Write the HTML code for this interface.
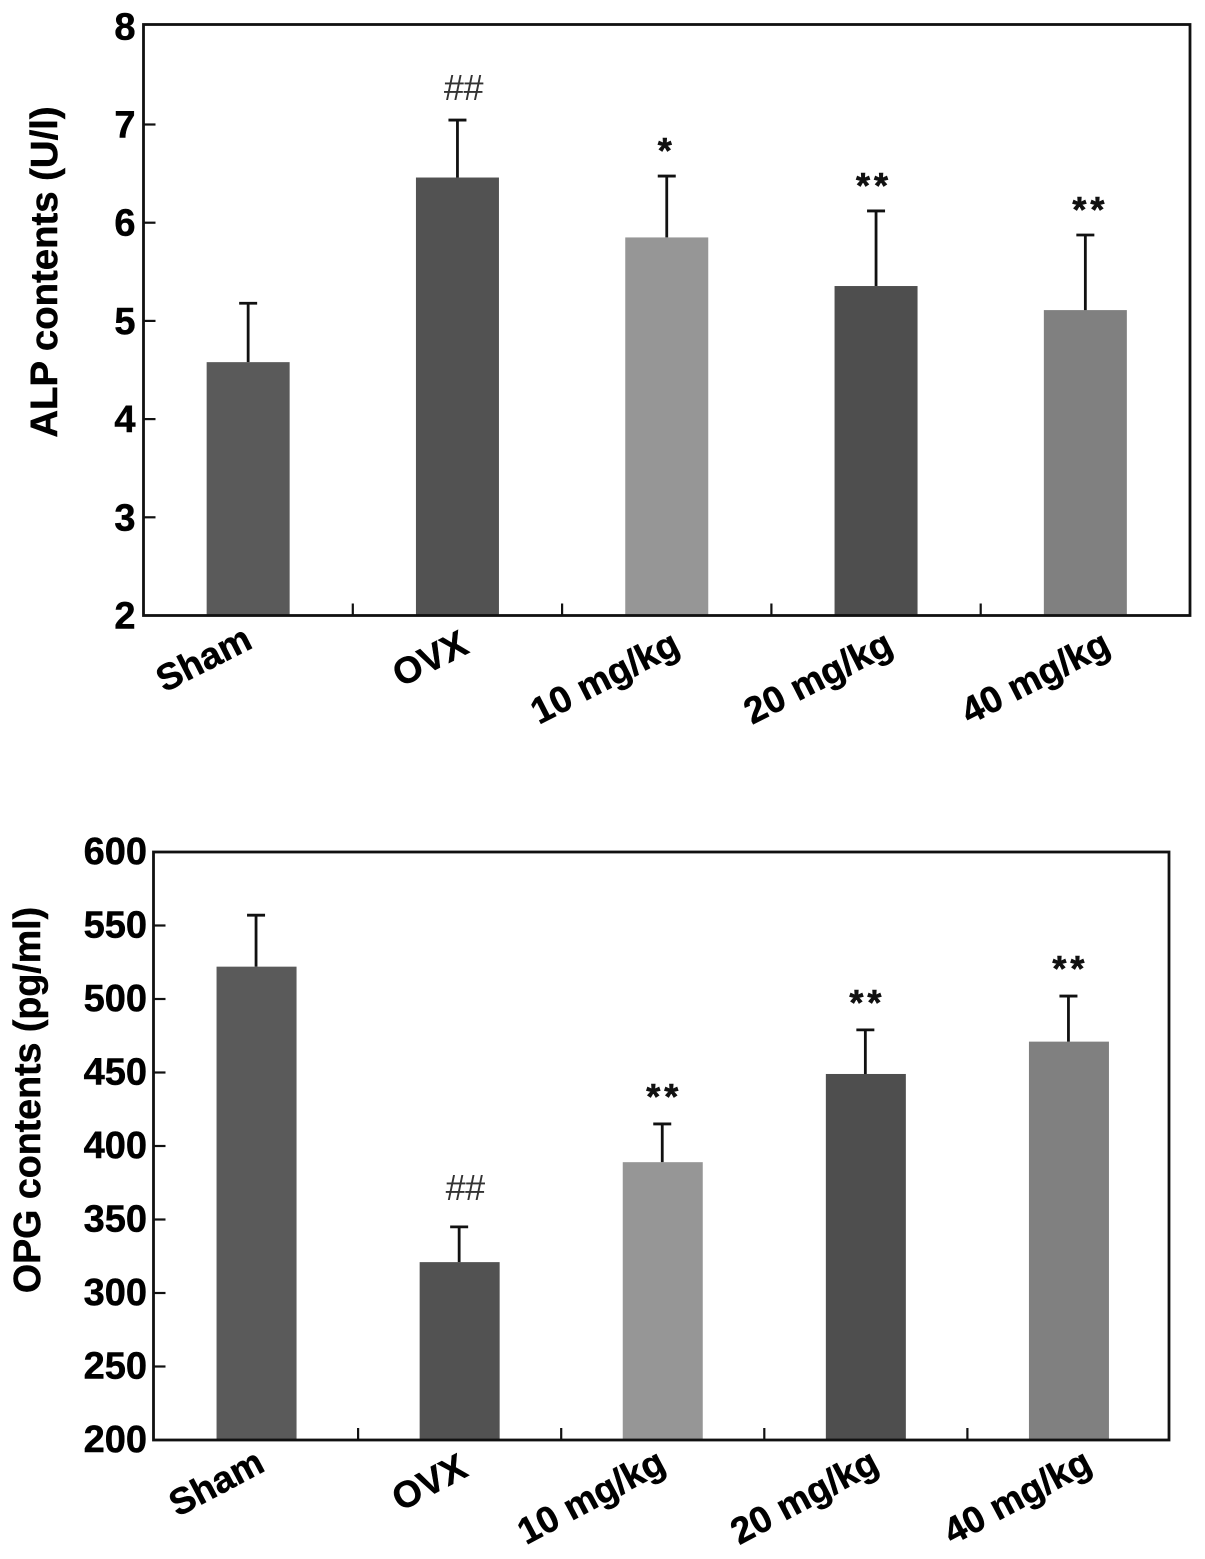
<!DOCTYPE html>
<html>
<head>
<meta charset="utf-8">
<title>ALP and OPG contents</title>
<style>
html,body{margin:0;padding:0;background:#fff;}
svg{display:block;}
text{font-family:"Liberation Sans",Arial,sans-serif;font-weight:bold;fill:#000;}
.heavy{stroke:#000;stroke-width:0.5px;}
</style>
</head>
<body>
<svg id="figure" width="1205" height="1559" viewBox="0 0 1205 1559" xmlns="http://www.w3.org/2000/svg"></svg>
<script>
const categories = ['Sham', 'OVX', '10 mg/kg', '20 mg/kg', '40 mg/kg'];
const alpValues = [4.58, 6.46, 5.85, 5.355, 5.11];
const alpErrorTops = [5.18, 7.045, 6.475, 6.12, 5.875];
const alpMarks = ['', '##', '*', '**', '**'];
const alpTicks = [2, 3, 4, 5, 6, 7, 8];
const opgValues = [522, 321, 389, 449, 471];
const opgErrorTops = [557, 345, 415, 479, 502];
const opgMarks = ['', '##', '**', '**', '**'];
const opgTicks = [200, 250, 300, 350, 400, 450, 500, 550, 600];
const barColors = ['#5a5a5a', '#525252', '#969696', '#4e4e4e', '#808080'];

const NS = 'http://www.w3.org/2000/svg';
const svg = document.getElementById('figure');

function make(tag, attrs, parent, text) {
  const el = document.createElementNS(NS, tag);
  for (const k in attrs) el.setAttribute(k, attrs[k]);
  if (text !== undefined) el.textContent = text;
  parent.appendChild(el);
  return el;
}

function drawChart(cfg) {
  const g = make('g', {}, svg);
  
  
  const y = v => cfg.bottom - (v - cfg.min) / (cfg.max - cfg.min) * (cfg.bottom - cfg.scaleTop);
  const band = (cfg.right - cfg.left) / cfg.categories.length;
  const x = i => cfg.left + cfg.shift + band * (i + 0.5);

  cfg.values.forEach((v, i) => {
    const bar = make('rect', {x: x(i) - cfg.barWidth / 2, y: y(v), width: cfg.barWidth, height: cfg.bottom - y(v), fill: barColors[i]}, g);
    
    

    const ex = x(i) + cfg.errOffset;
    const err = make('path', {d: `M${ex} ${y(v)}V${y(cfg.errors[i])}M${ex - 9} ${y(cfg.errors[i])}H${ex + 9}`, stroke: '#111', 'stroke-width': 2.8, fill: 'none'}, g);
    
    

    if (cfg.marks[i]) {
      const hash = cfg.marks[i] === '##';
      const mark = make('text', {
        x: x(i) + cfg.errOffset + cfg.markDx[i],
        y: y(cfg.errors[i]) + (hash ? cfg.hashDy : cfg.starDy),
        'text-anchor': 'middle',
        'font-size': hash ? 36 : 36,
        'letter-spacing': hash ? -0.5 : 4,
        style: hash ? 'font-weight:normal;fill:#333' : 'fill:#111;stroke:#111;stroke-width:0.6px'
      }, g, cfg.marks[i]);
      
      
    }

    const lx = x(i) + cfg.labelDx[i];
    const ly = cfg.labelY[i];
    const label = make('text', {class: 'heavy', x: lx, y: ly, 'text-anchor': 'end', 'font-size': 37, transform: `rotate(${-cfg.labelAngle} ${lx} ${ly})`}, g, cfg.categories[i]);
    
    
  });

  const frame = make('rect', {x: cfg.left, y: cfg.top, width: cfg.right - cfg.left, height: cfg.bottom - cfg.top, fill: 'none', stroke: '#111', 'stroke-width': 2.8}, g);
  
  

  cfg.ticks.forEach(t => {
    if (t !== cfg.min && t !== cfg.max) {
      const tick = make('line', {x1: cfg.left, x2: cfg.left + 12, y1: y(t), y2: y(t), stroke: '#111', 'stroke-width': 2.2}, g);
      
      
    }
    const lab = make('text', {class: 'heavy', x: cfg.left - cfg.tickGap, y: y(t) + cfg.tickDy, 'text-anchor': 'end', 'font-size': 38}, g, String(t));
    
    
  });

  for (let i = 0; i < cfg.categories.length - 1; i++) {
    const xt = (x(i) + x(i + 1)) / 2;
    const tick = make('line', {x1: xt, x2: xt, y1: cfg.bottom, y2: cfg.bottom - 12, stroke: '#111', 'stroke-width': 2.2}, g);
    
    
  }

  const title = make('text', {class: 'heavy', x: cfg.titleX, y: cfg.titleY, 'text-anchor': 'middle', 'font-size': cfg.titleSize, transform: `rotate(-90 ${cfg.titleX} ${cfg.titleY})`}, g, cfg.title);
  
  
}

drawChart({
  name: 'alp-chart', title: 'ALP contents (U/l)', categories,
  values: alpValues, errors: alpErrorTops, marks: alpMarks, ticks: alpTicks,
  min: 2, max: 8, left: 143.5, right: 1190, top: 24.5, scaleTop: 26.3, bottom: 615.5,
  shift: 0, barWidth: 83, errOffset: 0, tickDy: 13, tickGap: 8,
  labelDx: [6, 13, 15, 19, 27], labelY: [647, 652, 652, 652, 652], labelAngle: 27,
  markDx: [0, 6, 0, -2, 5], hashDy: -20, starDy: -13,
  titleX: 57, titleY: 272, titleSize: 38.3
});

drawChart({
  name: 'opg-chart', title: 'OPG contents (pg/ml)', categories,
  values: opgValues, errors: opgErrorTops, marks: opgMarks, ticks: opgTicks,
  min: 200, max: 600, left: 153.5, right: 1169, top: 852, scaleTop: 852, bottom: 1440,
  shift: 1.5, barWidth: 80, errOffset: -0.5, tickDy: 12, tickGap: 6.5,
  labelDx: [10, 10, 5, 15, 25], labelY: [1470, 1475, 1470, 1470, 1470], labelAngle: 28,
  markDx: [0, 6, 2, 2, 2], hashDy: -27, starDy: -15,
  titleX: 40, titleY: 1100, titleSize: 37.6
});
</script>
</body>
</html>
